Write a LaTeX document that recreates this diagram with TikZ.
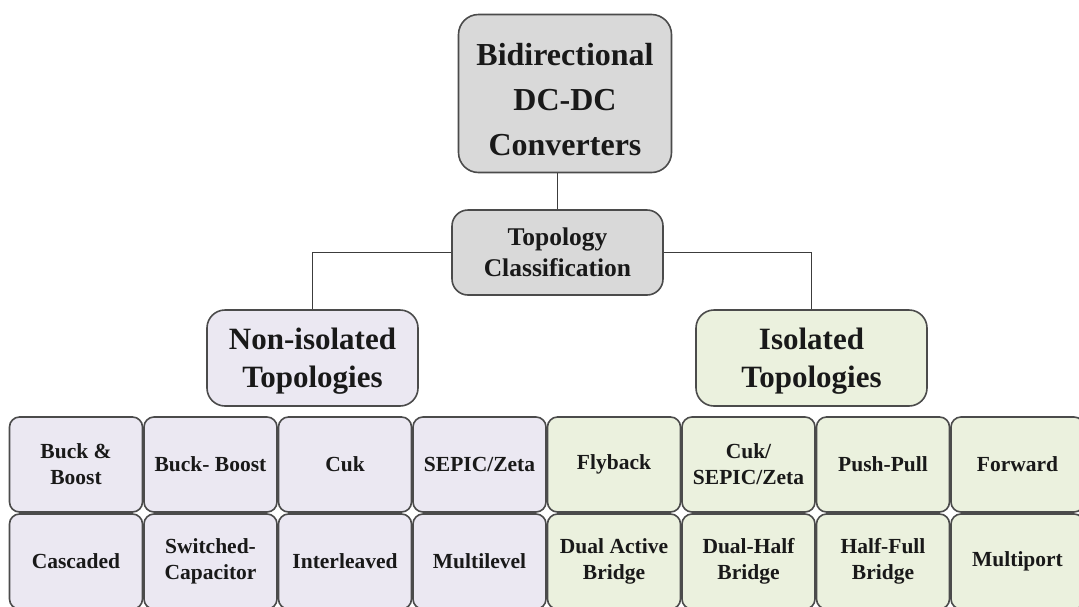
\documentclass[tikz,border=0pt]{standalone}
\usepackage{fontspec}
\setmainfont{Liberation Serif}
\usetikzlibrary{positioning}
\definecolor{grigio}{RGB}{217,217,217}
\definecolor{lilla}{RGB}{235,232,242}
\definecolor{verdino}{RGB}{235,241,222}
\definecolor{bordo}{RGB}{75,75,75}
\tikzset{
    scatola/.style = {draw=bordo, line width=1.6pt, rounded corners=#1, align=center,
                      inner sep=0pt, text=black!90},
    cella/.style   = {scatola=10pt, minimum width=133pt, minimum height=95pt,
                      font=\bfseries\fontsize{21.5}{26}\selectfont},
    linea/.style   = {draw=bordo!80!black, line width=1.8pt}
}

\begin{document}
\begin{tikzpicture}[x=1pt, y=-1pt]
    % Parametri
    \pgfmathsetmacro{\passo}{134.5}
    \pgfmathsetmacro{\xzero}{76}
    \pgfmathsetmacro{\rigaA}{464.5}
    \pgfmathsetmacro{\rigaB}{561.5}
    % Bordi
    \useasboundingbox (0,0) rectangle (1079,606);
    \clip (0,0) rectangle (1079,606);

    % Radice
    \node[scatola=20pt, fill=grigio, minimum width=213pt, minimum height=158pt,
          text height=124pt, font=\bfseries\fontsize{32}{45}\selectfont] (conv) at (565,93.5)
          {Bidirectional\\DC-DC\\Converters};
    \node[scatola=16pt, fill=grigio, minimum width=211pt, minimum height=85pt,
          font=\bfseries\fontsize{25.5}{31}\selectfont] (topo) at (557.5,252.5)
          {Topology\\Classification};
    % Rami
    \node[scatola=18pt, fill=lilla, minimum width=211pt, minimum height=96pt,
          text height=66pt, font=\bfseries\fontsize{31}{38}\selectfont] (noniso) at (312.5,358)
          {Non-isolated\\Topologies};
    \node[scatola=18pt, fill=verdino, minimum width=231pt, minimum height=96pt,
          text height=66pt, font=\bfseries\fontsize{31}{38}\selectfont] (iso) at (811.5,358)
          {Isolated\\Topologies};

    % Collegamenti
    \draw[linea] (topo.north) -- (topo.north |- conv.south);
    \draw[linea] (topo.west) -| (noniso.north);
    \draw[linea] (topo.east) -| (iso.north);

    % Non isolati
    \node[cella, fill=lilla] (buckboost) at ({\xzero+0*\passo},\rigaA) {Buck \&\\Boost};
    \node[cella, fill=lilla] (buckboostb) at ({\xzero+1*\passo},\rigaA) {Buck- Boost};
    \node[cella, fill=lilla] (cuk) at ({\xzero+2*\passo},\rigaA) {Cuk};
    \node[cella, fill=lilla] (sepic) at ({\xzero+3*\passo},\rigaA) {SEPIC/Zeta};
    \node[cella, fill=lilla] (cascaded) at ({\xzero+0*\passo},\rigaB) {Cascaded};
    \node[cella, fill=lilla] (switched) at ({\xzero+1*\passo},\rigaB) {Switched-\\Capacitor};
    \node[cella, fill=lilla] (interleaved) at ({\xzero+2*\passo},\rigaB) {Interleaved};
    \node[cella, fill=lilla] (multilevel) at ({\xzero+3*\passo},\rigaB) {Multilevel};
    % Isolati
    \node[cella, fill=verdino] (flyback) at ({\xzero+4*\passo},\rigaA) {Flyback};
    \node[cella, fill=verdino] (cuksepic) at ({\xzero+5*\passo},\rigaA) {Cuk/\\SEPIC/Zeta};
    \node[cella, fill=verdino] (pushpull) at ({\xzero+6*\passo},\rigaA) {Push-Pull};
    \node[cella, fill=verdino] (forward) at ({\xzero+7*\passo},\rigaA) {Forward};
    \node[cella, fill=verdino] (dab) at ({\xzero+4*\passo},\rigaB) {Dual Active\\Bridge};
    \node[cella, fill=verdino] (dualhalf) at ({\xzero+5*\passo},\rigaB) {Dual-Half\\Bridge};
    \node[cella, fill=verdino] (halffull) at ({\xzero+6*\passo},\rigaB) {Half-Full\\Bridge};
    \node[cella, fill=verdino] (multiport) at ({\xzero+7*\passo},\rigaB) {Multiport};
\end{tikzpicture}
\end{document}
